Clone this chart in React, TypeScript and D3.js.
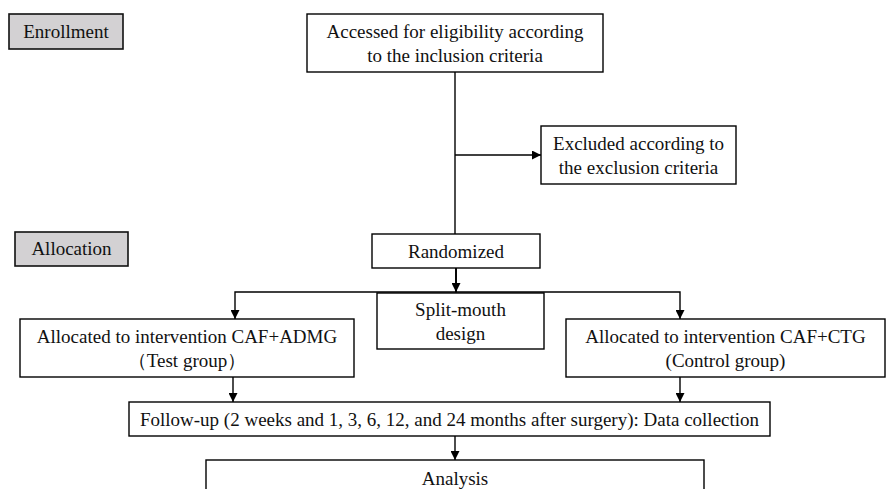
import React, { useEffect, useRef } from "react";
import * as d3 from "d3";

// stage labels (grey tabs on the left)
const stageLabels = ["Enrollment", "Allocation"];

// flow boxes, text split in lines
const boxIds = ["assess", "excluded", "random", "split", "test", "control", "follow", "analysis"];
const boxLines = [
  ["Accessed for eligibility according", "to the inclusion criteria"],
  ["Excluded according to", "the exclusion criteria"],
  ["Randomized"],
  ["Split-mouth", "design"],
  ["Allocated to intervention CAF+ADMG", "（Test group）"],
  ["Allocated to intervention CAF+CTG", "(Control group)"],
  ["Follow-up (2 weeks and 1, 3, 6, 12, and 24 months after surgery): Data collection"],
  ["Analysis"],
];

// links between boxes
const links: [string, string][] = [
  ["assess", "excluded"],
  ["assess", "random"],
  ["random", "test"],
  ["random", "control"],
  ["test", "follow"],
  ["control", "follow"],
  ["follow", "analysis"],
];

// layout (pixel grid of the page)
const W = 887, H = 489;
const stageGeom: Record<string, number[]> = {
  Enrollment: [9, 14, 114, 35],
  Allocation: [15, 232, 113, 34],
};
const geom: Record<string, number[]> = {
  assess: [307, 14, 296, 58],
  excluded: [541, 126, 195, 58],
  random: [372, 234, 168, 34],
  split: [377, 293, 167, 56],
  test: [20, 319, 334, 58],
  control: [566, 319, 319, 58],
  follow: [129, 402, 641, 34],
  analysis: [206, 460, 498, 60],
};
const FONT = "'Liberation Serif'";
const FS = 19;
const LH = 24;

const App = () => {
  const ref = useRef<SVGSVGElement>(null);

  useEffect(() => {
    const svg = d3.select(ref.current);
    svg.selectAll("*").remove();

    const defs = svg.append("defs");
    defs.append("marker")
      .attr("id", "arr")
      .attr("viewBox", "0 0 10 10")
      .attr("refX", 10).attr("refY", 5)
      .attr("markerWidth", 9).attr("markerHeight", 9)
      .attr("markerUnits", "userSpaceOnUse")
      .attr("orient", "auto")
      .append("path").attr("d", "M0,0L10,5L0,10Z").attr("fill", "#000");

    // stage tabs
    const st = svg.append("g").selectAll("g").data(stageLabels).enter().append("g");
    st.append("rect")
      .attr("x", d => stageGeom[d][0]).attr("y", d => stageGeom[d][1])
      .attr("width", d => stageGeom[d][2]).attr("height", d => stageGeom[d][3])
      .attr("fill", "#d3d1d3").attr("stroke", "#111").attr("stroke-width", 1.6);
    st.append("text")
      .attr("x", d => stageGeom[d][0] + stageGeom[d][2] / 2)
      .attr("y", d => stageGeom[d][1] + stageGeom[d][3] / 2 + 6)
      .attr("text-anchor", "middle")
      .style("font-family", FONT).style("font-size", FS + "px")
      .attr("fill", "#111")
      .text(d => d);

    // connectors
    const c = (id: string) => geom[id];
    const cx = (id: string) => c(id)[0] + c(id)[2] / 2;
    const line = d3.line();
    const lg = svg.append("g").attr("fill", "none").attr("stroke", "#000").attr("stroke-width", 1.4);
    const trunkX = 455;
    const branchY = c("split")[1] - 1;
    links.forEach(([a, b]) => {
      let pts: [number, number][] = [];
      let arrow = true;
      if (a === "assess" && b === "excluded") {
        pts = [[trunkX, c("excluded")[1] + c("excluded")[3] / 2], [c("excluded")[0], c("excluded")[1] + c("excluded")[3] / 2]];
      } else if (a === "assess" && b === "random") {
        pts = [[trunkX, c("assess")[1] + c("assess")[3]], [trunkX, c("random")[1]]];
        arrow = false;
      } else if (a === "random") {
        const tx = b === "test" ? 235 : 680;
        pts = [[456, c("random")[1] + c("random")[3]], [456, branchY], [tx, branchY], [tx, c(b)[1]]];
      } else if (b === "follow") {
        const x = a === "test" ? 233 : 680;
        pts = [[x, c(a)[1] + c(a)[3]], [x, c("follow")[1]]];
      } else {
        pts = [[trunkX, c(a)[1] + c(a)[3]], [trunkX, c(b)[1]]];
      }
      lg.append("path").attr("d", line(pts)).attr("marker-end", arrow ? "url(#arr)" : null);
    });
    // arrowhead on the trunk from randomized to split line
    lg.append("path")
      .attr("d", line([[456, c("random")[1] + c("random")[3]], [456, branchY]]))
      .attr("marker-end", "url(#arr)");

    // boxes
    const bg = svg.append("g").selectAll("g").data(boxIds).enter().append("g");
    bg.append("rect")
      .attr("x", d => geom[d][0]).attr("y", d => geom[d][1])
      .attr("width", d => geom[d][2]).attr("height", d => geom[d][3])
      .attr("fill", "#fff").attr("stroke", "#000").attr("stroke-width", 1.4);
    bg.each(function (d, i) {
      const g = geom[d];
      const lines = boxLines[i];
      const midY = d === "analysis" ? g[1] + 18 : g[1] + g[3] / 2;
      const y0 = midY - ((lines.length - 1) * LH) / 2 + 6.5;
      d3.select(this).selectAll("text").data(lines).enter().append("text")
        .attr("x", cx(d))
        .attr("y", (_, j) => y0 + j * LH)
        .attr("text-anchor", "middle")
        .style("font-family", FONT).style("font-size", FS + "px")
        .attr("fill", "#111")
        .text(t => t);
    });
  }, []);

  return (
    <div style={{ position: "absolute", left: 0, top: 0, background: "#fff" }}>
      <svg ref={ref} width={W} height={H} style={{ display: "block" }}></svg>
    </div>
  );
};

export default App;
